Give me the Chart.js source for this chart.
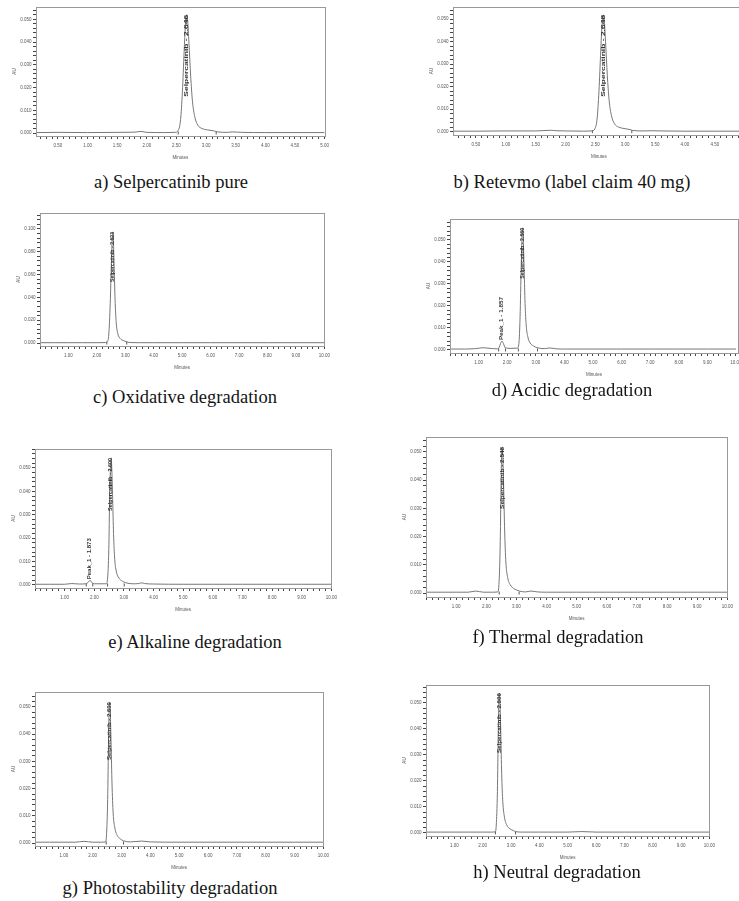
<!DOCTYPE html>
<html>
<head>
<meta charset="utf-8">
<script src="https://cdn.jsdelivr.net/npm/chart.js@4.4.1/dist/chart.umd.min.js"></script>
<style>
  html, body { margin: 0; padding: 0; background: #fff; overflow: hidden; }
  #page { position: relative; width: 739px; height: 901px; overflow: hidden; background: #fff; }
  #page canvas { position: absolute; }
  .cap {
    position: absolute;
    font-family: "Liberation Serif", "Times New Roman", serif;
    font-size: 18.5px;
    color: #141414;
    white-space: nowrap;
    transform: translate(-50%, -50%);
  }
</style>
</head>
<body>
<div id="page"></div>
<script>
// retention time (min) and absorbance (AU)
const timeA = [0.13, 0.5, 1.0, 1.5, 1.8, 1.9, 2.0, 2.3, 2.48, 2.53, 2.57, 2.60, 2.63, 2.65, 2.67, 2.69, 2.71, 2.74, 2.77, 2.81, 2.86, 2.93, 3.02, 3.12, 3.2, 3.35, 3.45, 3.6, 4.0, 4.5, 5.0];
const auA = [0.0002, 0.0003, 0.0002, 0.0003, 0.0004, 0.0007, 0.0003, 0.0002, 0.0003, 0.0012, 0.0060, 0.0180, 0.0360, 0.0470, 0.0520, 0.0490, 0.0400, 0.0250, 0.0140, 0.0070, 0.0035, 0.0020, 0.0014, 0.0010, 0.0005, 0.0003, 0.0005, 0.0003, 0.0002, 0.0002, 0.0002];

const timeB = [0.12, 0.5, 1.0, 1.5, 1.75, 1.85, 2.0, 2.3, 2.44, 2.49, 2.53, 2.56, 2.59, 2.61, 2.63, 2.65, 2.67, 2.70, 2.73, 2.77, 2.82, 2.89, 2.98, 3.08, 3.13, 3.3, 3.45, 3.6, 4.0, 4.5, 5.0];
const auB = [0.0002, 0.0002, 0.0003, 0.0003, 0.0006, 0.0004, 0.0003, 0.0002, 0.0003, 0.0012, 0.0060, 0.0180, 0.0360, 0.0470, 0.0519, 0.0490, 0.0400, 0.0250, 0.0140, 0.0070, 0.0035, 0.0020, 0.0014, 0.0009, 0.0005, 0.0003, 0.0004, 0.0003, 0.0002, 0.0002, 0.0002];

const timeC = [0, 0.5, 1.0, 1.5, 2.0, 2.3, 2.36, 2.42, 2.47, 2.51, 2.54, 2.56, 2.58, 2.61, 2.64, 2.68, 2.74, 2.82, 2.95, 3.05, 3.2, 3.5, 4, 5, 6, 7, 8, 9, 10];
const auC = [0.0003, 0.0003, 0.0003, 0.0003, 0.0003, 0.0004, 0.0010, 0.0080, 0.0350, 0.0700, 0.0920, 0.0974, 0.0900, 0.0650, 0.0380, 0.0180, 0.0080, 0.0040, 0.0020, 0.0010, 0.0004, 0.0003, 0.0003, 0.0003, 0.0003, 0.0003, 0.0003, 0.0003, 0.0003];

const timeD = [0, 0.5, 0.9, 1.15, 1.4, 1.65, 1.72, 1.77, 1.82, 1.87, 1.93, 2.1, 2.35, 2.41, 2.45, 2.49, 2.52, 2.54, 2.56, 2.59, 2.62, 2.66, 2.72, 2.80, 2.92, 3.05, 3.3, 3.5, 3.7, 4, 5, 6, 7, 8, 9, 10];
const auD = [0.0004, 0.0004, 0.0006, 0.0010, 0.0007, 0.0005, 0.0012, 0.0030, 0.0040, 0.0028, 0.0010, 0.0007, 0.0008, 0.0030, 0.0150, 0.0380, 0.0520, 0.0555, 0.0510, 0.0380, 0.0230, 0.0120, 0.0060, 0.0032, 0.0018, 0.0010, 0.0006, 0.0009, 0.0005, 0.0004, 0.0004, 0.0004, 0.0004, 0.0004, 0.0004, 0.0004];

const timeE = [0, 0.5, 1.0, 1.24, 1.5, 1.72, 1.8, 1.86, 1.92, 2.0, 2.4, 2.45, 2.49, 2.52, 2.55, 2.57, 2.59, 2.62, 2.65, 2.69, 2.75, 2.83, 2.95, 3.05, 3.3, 3.5, 3.6, 3.7, 4, 5, 6, 7, 8, 9, 10];
const auE = [0.0003, 0.0003, 0.0003, 0.0006, 0.0004, 0.0005, 0.0012, 0.0020, 0.0010, 0.0005, 0.0005, 0.0030, 0.0150, 0.0380, 0.0510, 0.0543, 0.0500, 0.0370, 0.0220, 0.0110, 0.0055, 0.0030, 0.0016, 0.0010, 0.0005, 0.0006, 0.0009, 0.0006, 0.0004, 0.0003, 0.0003, 0.0003, 0.0003, 0.0003, 0.0003];

const timeF = [0, 0.5, 1.0, 1.4, 1.65, 1.9, 2.2, 2.38, 2.42, 2.46, 2.49, 2.51, 2.53, 2.55, 2.58, 2.61, 2.65, 2.71, 2.79, 2.9, 3.0, 3.1, 3.3, 3.48, 3.7, 4, 5, 6, 7, 8, 9, 10];
const auF = [0.0003, 0.0003, 0.0003, 0.0003, 0.0007, 0.0003, 0.0003, 0.0004, 0.0030, 0.0160, 0.0380, 0.0490, 0.0518, 0.0480, 0.0360, 0.0220, 0.0110, 0.0055, 0.0030, 0.0017, 0.0011, 0.0007, 0.0004, 0.0007, 0.0004, 0.0003, 0.0003, 0.0003, 0.0003, 0.0003, 0.0003, 0.0003];

const timeG = [0, 0.5, 1.0, 1.4, 1.7, 2.0, 2.3, 2.44, 2.48, 2.52, 2.55, 2.57, 2.59, 2.61, 2.64, 2.67, 2.71, 2.77, 2.85, 2.96, 3.07, 3.3, 3.7, 4, 5, 6, 7, 8, 9, 10];
const auG = [0.0003, 0.0003, 0.0003, 0.0003, 0.0006, 0.0003, 0.0003, 0.0004, 0.0030, 0.0160, 0.0380, 0.0490, 0.0518, 0.0480, 0.0360, 0.0220, 0.0110, 0.0055, 0.0028, 0.0015, 0.0008, 0.0004, 0.0007, 0.0004, 0.0003, 0.0003, 0.0003, 0.0003, 0.0003, 0.0003];

const timeH = [0, 0.5, 1.0, 1.5, 2.0, 2.3, 2.44, 2.48, 2.52, 2.55, 2.57, 2.59, 2.61, 2.64, 2.67, 2.71, 2.77, 2.85, 2.96, 3.08, 3.16, 3.4, 4, 5, 5.5, 6, 7, 8, 9, 10];
const auH = [0.0003, 0.0003, 0.0003, 0.0003, 0.0003, 0.0003, 0.0004, 0.0030, 0.0160, 0.0390, 0.0505, 0.0538, 0.0500, 0.0380, 0.0230, 0.0120, 0.0060, 0.0030, 0.0016, 0.0009, 0.0005, 0.0003, 0.0003, 0.0003, 0.0005, 0.0003, 0.0003, 0.0003, 0.0003, 0.0003];

// integration start / end marks (min)
const marksA = [2.53, 3.17];
const marksB = [2.45, 3.11];
const marksC = [2.35, 3.05];
const marksD = [1.70, 1.94, 2.39, 3.06];
const marksE = [1.73, 1.95, 2.45, 3.01];
const marksF = [2.43, 3.09];
const marksG = [2.47, 3.07];
const marksH = [2.45, 3.16];

// peak apex time and peak name
const peaksA = [[2.67, "Selpercatinib - 2.646"]];
const peaksB = [[2.63, "Selpercatinib - 2.648"]];
const peaksC = [[2.56, "Selpercatinib - 2.623"]];
const peaksD = [[1.82, "Peak_1 - 1.857"], [2.54, "Selpercatinib - 2.560"]];
const peaksE = [[1.86, "Peak_1 - 1.873"], [2.57, "Selpercatinib - 2.600"]];
const peaksF = [[2.53, "Selpercatinib - 2.548"]];
const peaksG = [[2.59, "Selpercatinib - 2.609"]];
const peaksH = [[2.59, "Selpercatinib - 2.606"]];

const captions = [
  "a) Selpercatinib pure",
  "b) Retevmo (label claim 40 mg)",
  "c) Oxidative degradation",
  "d) Acidic degradation",
  "e) Alkaline degradation",
  "f) Thermal degradation",
  "g) Photostability degradation",
  "h) Neutral degradation",
];

// layout of each panel on the page: plot frame, axis ranges, caption centre
const panels = [
  { time: timeA, au: auA, marks: marksA, peaks: peaksA, frame: [36, 7, 325, 136], x: [0.13, 5], xStep: [0.5, 0.1], y: [-0.0013, 0.0554], yStep: [0.01, 0.002], labelSize: 6, labelLen: [82], cap: [171, 182] },
  { time: timeB, au: auB, marks: marksB, peaks: peaksB, frame: [453, 7, 745, 135], x: [0.115, 5], xStep: [0.5, 0.1], y: [-0.0015, 0.0554], yStep: [0.01, 0.002], labelSize: 6, labelLen: [82], cap: [572, 182] },
  { time: timeC, au: auC, marks: marksC, peaks: peaksC, frame: [40, 213, 326, 346], x: [0, 10], xStep: [1, 0.2], y: [-0.0026, 0.114], yStep: [0.02, 0.004], labelSize: 4.8, labelLen: [50], cap: [185, 397] },
  { time: timeD, au: auD, marks: marksD, peaks: peaksD, frame: [450, 219, 738, 353], x: [0, 10.07], xStep: [1, 0.2], y: [-0.0014, 0.0595], yStep: [0.01, 0.002], labelSize: 4.8, labelLen: [43, 51], cap: [572, 390] },
  { time: timeE, au: auE, marks: marksE, peaks: peaksE, frame: [35, 449, 333, 588], x: [0, 10], xStep: [1, 0.2], y: [-0.0013, 0.0581], yStep: [0.01, 0.002], labelSize: 4.8, labelLen: [41, 53], cap: [195, 642] },
  { time: timeF, au: auF, marks: marksF, peaks: peaksF, frame: [426, 437, 729, 597], x: [0, 10], xStep: [1, 0.2], y: [-0.0014, 0.0553], yStep: [0.01, 0.002], labelSize: 4.8, labelLen: [62], cap: [558, 637] },
  { time: timeG, au: auG, marks: marksG, peaks: peaksG, frame: [35, 692, 325, 846], x: [0, 10], xStep: [1, 0.2], y: [-0.0011, 0.0555], yStep: [0.01, 0.002], labelSize: 4.8, labelLen: [58], cap: [170, 888] },
  { time: timeH, au: auH, marks: marksH, peaks: peaksH, frame: [426, 685, 711, 836], x: [0, 10], xStep: [1, 0.2], y: [-0.0012, 0.0569], yStep: [0.01, 0.002], labelSize: 4.8, labelLen: [60], cap: [557, 872] },
];

const Y_AXIS_W = 28;
const X_AXIS_H = 28;
const PAD = { top: 6, right: 8, bottom: 2, left: 0 };
const TICK_FONT = { family: "'Liberation Sans', Arial, sans-serif", size: 4.5 };

function tickGrid() {
  return { drawOnChartArea: false, drawTicks: true, tickLength: 3, tickWidth: 1, tickColor: "#444", color: "#444" };
}

function tickValues(min, max, step) {
  const out = [];
  const start = Math.ceil(min / step - 1e-9);
  const end = Math.floor(max / step + 1e-9);
  for (let i = start; i <= end; i++) {
    out.push({ value: +(i * step).toFixed(6) });
  }
  return out;
}

function isMajor(v, major) {
  const r = v / major;
  return Math.abs(r - Math.round(r)) < 1e-6;
}

const framePlugin = {
  id: "frame",
  afterDraw(chart) {
    const { ctx, chartArea } = chart;
    ctx.save();
    ctx.strokeStyle = "#999";
    ctx.lineWidth = 1;
    ctx.strokeRect(
      Math.round(chartArea.left) + 0.5,
      Math.round(chartArea.top) + 0.5,
      Math.round(chartArea.right - chartArea.left),
      Math.round(chartArea.bottom - chartArea.top)
    );
    ctx.restore();
  },
};

const peakLabelPlugin = {
  id: "peakLabels",
  afterDatasetsDraw(chart, args, opts) {
    const { ctx } = chart;
    const xs = chart.scales.x;
    const ys = chart.scales.y;
    (opts.items || []).forEach((item) => {
      const px = xs.getPixelForValue(item.t);
      const py = ys.getPixelForValue(item.apex);
      ctx.save();
      ctx.font = `bold ${opts.size}px 'Liberation Sans', Arial, sans-serif`;
      const w = ctx.measureText(item.text).width;
      ctx.translate(px, py - (item.small ? 1 : 0));
      ctx.rotate(-Math.PI / 2);
      ctx.scale(item.len / w, 1);
      // main peaks: text ends at the apex; small peaks: text starts at the apex
      ctx.textAlign = item.small ? "left" : "right";
      ctx.textBaseline = "middle";
      ctx.fillStyle = "#333";
      ctx.fillText(item.text, 0, 0);
      ctx.restore();
    });
  },
};

function makePanel(p, caption) {
  const page = document.getElementById("page");
  const [fl, ft, fr, fb] = p.frame;
  const left = fl - Y_AXIS_W;
  const top = ft - PAD.top;
  const width = fr + PAD.right - left;
  const height = fb + X_AXIS_H + PAD.bottom - top;

  const canvas = document.createElement("canvas");
  canvas.width = width;
  canvas.height = height;
  canvas.style.left = left + "px";
  canvas.style.top = top + "px";
  canvas.style.width = width + "px";
  canvas.style.height = height + "px";
  page.appendChild(canvas);

  const trace = p.time.map((t, i) => ({ x: t, y: p.au[i] }));
  const marks = p.marks.map((t) => ({ x: t, y: 0 }));
  const maxAu = Math.max(...p.au);
  const items = p.peaks.map(([t, text], i) => {
    const apex = p.au[p.time.indexOf(t)];
    return { t, apex, text, len: p.labelLen[i], small: apex < maxAu * 0.5 };
  });

  new Chart(canvas, {
    type: "line",
    data: {
      datasets: [
        {
          data: trace,
          borderColor: "#777",
          borderWidth: 1,
          pointRadius: 0,
          cubicInterpolationMode: "monotone",
          fill: false,
        },
        {
          data: marks,
          showLine: false,
          pointStyle: "line",
          rotation: 90,
          pointRadius: 1.5,
          borderColor: "#555",
          borderWidth: 1,
        },
      ],
    },
    options: {
      responsive: false,
      animation: false,
      events: [],
      layout: { padding: PAD },
      plugins: {
        legend: { display: false },
        tooltip: { enabled: false },
        peakLabels: { items, size: p.labelSize },
      },
      scales: {
        x: {
          type: "linear",
          min: p.x[0],
          max: p.x[1],
          afterBuildTicks: (axis) => {
            axis.ticks = tickValues(p.x[0], p.x[1], p.xStep[1]);
          },
          afterFit: (scale) => {
            scale.height = X_AXIS_H;
          },
          ticks: {
            autoSkip: false,
            maxTicksLimit: 1000,
            maxRotation: 0,
            padding: 4,
            color: "#555",
            font: TICK_FONT,
            callback: (v) => (v > 0 && isMajor(v, p.xStep[0]) ? v.toFixed(2) : ""),
          },
          grid: tickGrid(),
          border: { display: true, color: "#999" },
          title: { display: true, text: "Minutes", color: "#555", font: TICK_FONT },
        },
        y: {
          type: "linear",
          min: p.y[0],
          max: p.y[1],
          afterBuildTicks: (axis) => {
            axis.ticks = tickValues(p.y[0], p.y[1], p.yStep[1]);
          },
          afterFit: (scale) => {
            scale.width = Y_AXIS_W;
          },
          ticks: {
            autoSkip: false,
            maxTicksLimit: 1000,
            padding: 1.5,
            color: "#555",
            font: TICK_FONT,
            callback: (v) => (isMajor(v, p.yStep[0]) ? v.toFixed(3) : ""),
          },
          grid: tickGrid(),
          border: { display: true, color: "#999" },
          title: { display: true, text: "AU", color: "#555", font: TICK_FONT },
        },
      },
    },
    plugins: [framePlugin, peakLabelPlugin],
  });

  const cap = document.createElement("div");
  cap.className = "cap";
  cap.textContent = caption;
  cap.style.left = p.cap[0] + "px";
  cap.style.top = p.cap[1] + "px";
  page.appendChild(cap);
}

panels.forEach((p, i) => makePanel(p, captions[i]));
</script>
</body>
</html>
